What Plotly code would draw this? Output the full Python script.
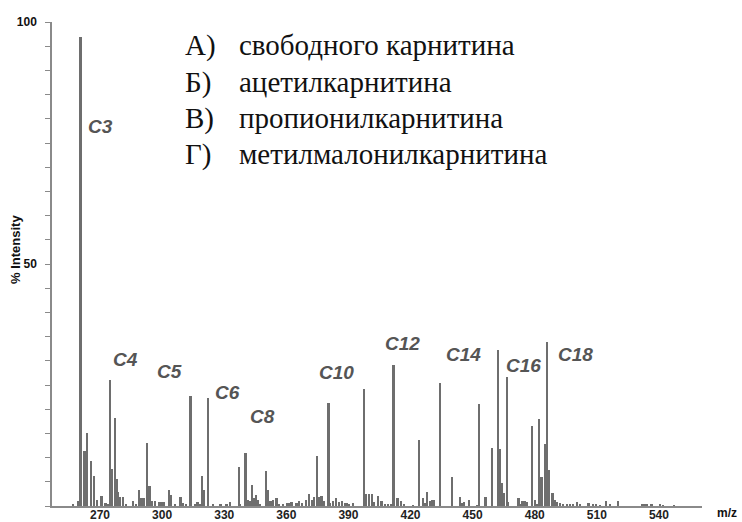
import plotly.graph_objects as go

# ---- data ----
mz_values = [257.1, 259.5, 260.7, 262.6, 263.9, 265.7, 267.2, 268.6, 270.8, 272.8, 274.0,
             274.9, 275.7, 277.2, 278.2, 278.8, 279.8, 281.3, 282.5, 286.1, 287.5, 288.8,
             289.8, 291.1, 292.9, 294.0, 295.3, 296.6, 298.5, 299.8, 300.8, 303.3, 304.6,
             306.5, 309.0, 310.0, 311.5, 313.8, 316.2, 317.2, 318.2, 319.5, 320.2, 322.4,
             324.5, 328.3, 331.2, 333.1, 337.3, 337.9, 340.4, 341.4, 342.5, 343.4, 344.4,
             345.4, 346.2, 347.5, 350.2, 351.3, 352.5, 353.7, 355.4, 356.5, 358.5, 360.5,
             361.4, 362.6, 365.0, 366.3, 367.5, 369.5, 371.1, 372.4, 373.5, 375.1, 375.9,
             377.1, 378.2, 380.5, 381.4, 382.7, 384.3, 385.6, 387.2, 388.5, 389.2, 390.5,
             392.4, 397.6, 398.8, 400.0, 401.3, 402.5, 404.4, 406.1, 407.7, 409.1, 410.6,
             411.9, 413.8, 415.4, 416.9, 421.5, 424.2, 426.2, 427.0, 428.1, 429.6, 430.5,
             431.5, 434.3, 440.2, 444.1, 445.0, 446.0, 448.3, 452.5, 453.1, 456.3, 459.4,
             462.5, 463.2, 464.1, 465.0, 466.7, 467.4, 472.3, 473.2, 474.2, 475.3, 476.4,
             478.6, 480.1, 481.3, 482.2, 483.4, 485.3, 486.2, 487.1, 488.7, 489.8, 490.9,
             492.2, 493.8, 495.6, 497.1, 498.5, 500.6, 501.9, 506.1, 508.2, 509.6, 511.5,
             514.4, 516.4, 520.4, 532.2, 533.3, 534.4, 536.5, 540.6, 542.1, 547.3]
intensity_values = [0.5, 1.0, 97.0, 11.4, 15.0, 9.3, 6.3, 1.2, 2.0, 0.6, 0.3,
                    26.0, 7.7, 18.2, 5.5, 2.9, 1.9, 1.9, 0.3, 1.0, 0.3, 3.4,
                    1.7, 1.7, 13.0, 4.1, 1.0, 1.0, 0.8, 0.8, 0.8, 3.4, 2.3,
                    0.3, 1.9, 0.7, 0.3, 22.8, 0.4, 0.8, 0.3, 6.3, 3.4, 22.3,
                    0.3, 0.5, 0.5, 0.8, 8.0, 0.3, 11.0, 1.3, 1.0, 4.4, 1.7,
                    2.2, 1.3, 0.3, 7.2, 3.3, 1.0, 1.3, 1.7, 0.3, 0.3, 0.6,
                    0.6, 0.8, 0.6, 1.0, 0.6, 1.3, 2.4, 1.3, 1.9, 10.3, 1.9,
                    2.0, 1.0, 21.2, 0.6, 1.0, 1.7, 0.8, 1.0, 0.6, 0.6, 0.3,
                    0.6, 24.1, 2.4, 2.4, 2.4, 0.8, 2.0, 1.0, 0.3, 0.3, 0.3,
                    29.1, 1.7, 1.0, 0.3, 0.2, 13.7, 1.7, 0.6, 2.9, 1.0, 1.3,
                    1.2, 25.5, 6.0, 1.9, 0.6, 0.8, 1.3, 0.2, 21.0, 1.9, 12.0,
                    32.2, 11.8, 4.8, 2.7, 26.7, 0.8, 1.7, 0.5, 1.0, 1.0, 0.8,
                    16.6, 1.3, 0.3, 18.0, 6.0, 12.9, 33.8, 7.5, 2.6, 1.3, 0.8,
                    0.6, 0.3, 0.3, 0.3, 0.3, 0.8, 0.4, 0.6, 0.3, 0.3, 0.2,
                    1.0, 0.3, 1.0, 0.3, 0.3, 0.3, 0.3, 0.3, 0.2, 0.2]

peak_labels = ["C3", "C4", "C5", "C6", "C8", "C10", "C12", "C14", "C16", "C18"]
peak_label_mz = [270.0, 282.1, 303.8, 331.8, 348.3, 384.0, 415.9, 445.4, 474.8, 499.5]
peak_label_int = [78.5, 30.2, 27.8, 23.4, 18.5, 27.6, 33.5, 31.3, 29.0, 31.3]

legend_letters = ["А)", "Б)", "В)", "Г)"]
legend_texts = ["свободного карнитина", "ацетилкарнитина", "пропионилкарнитина",
                "метилмалонилкарнитина"]

x_tick_vals = [270, 300, 330, 360, 390, 420, 450, 480, 510, 540]
y_tick_vals = list(range(0, 101, 5))
y_tick_text = ["100" if v == 100 else ("50" if v == 50 else "") for v in y_tick_vals]

W, H = 742, 522
ML, MR, MT, MB = 52, 40, 22, 16
PW, PH = W - ML - MR, H - MT - MB


def px_to_paper(px, py):
    return (px - ML) / PW, (H - MB - py) / PH


fig = go.Figure()
fig.add_trace(go.Bar(x=mz_values, y=intensity_values, width=0.8,
                     marker=dict(color="#6e6e6e", line=dict(width=0)),
                     hoverinfo="x+y"))

# peak labels
for lab, mx, my in zip(peak_labels, peak_label_mz, peak_label_int):
    fig.add_annotation(x=mx, y=my, xref="x", yref="y", text="<i>%s</i>" % lab,
                       showarrow=False, xanchor="center", yanchor="middle",
                       font=dict(family="Liberation Sans", size=19, color="#555555",
                                 weight="bold"))

# legend text block (serif)
leg_py = [45, 82, 118, 154]
for letter, txt, py in zip(legend_letters, legend_texts, leg_py):
    xa, ya = px_to_paper(183, py)
    xb, _ = px_to_paper(237, py)
    fig.add_annotation(x=xa, y=ya, xref="paper", yref="paper", text=letter,
                       showarrow=False, xanchor="left", yanchor="middle",
                       font=dict(family="Liberation Serif", size=29, color="#111111"))
    fig.add_annotation(x=xb, y=ya, xref="paper", yref="paper", text=txt,
                       showarrow=False, xanchor="left", yanchor="middle",
                       font=dict(family="Liberation Serif", size=29, color="#111111"))

# axis titles
tx, ty = px_to_paper(15, 250)
fig.add_annotation(x=tx, y=ty, xref="paper", yref="paper", text="% Intensity",
                   showarrow=False, textangle=-90, xanchor="center", yanchor="middle",
                   font=dict(family="Liberation Sans", size=13, color="#111111",
                             weight="bold"))
mx_, my_ = px_to_paper(727, 513)
fig.add_annotation(x=mx_, y=my_, xref="paper", yref="paper", text="m/z",
                   showarrow=False, xanchor="center", yanchor="middle",
                   font=dict(family="Liberation Sans", size=12, color="#111111",
                             weight="bold"))

fig.update_layout(
    width=W, height=H,
    margin=dict(l=ML, r=MR, t=MT, b=MB, autoexpand=False),
    paper_bgcolor="white", plot_bgcolor="white",
    showlegend=False, bargap=0,
    xaxis=dict(range=[246.8, 560.8], tickvals=x_tick_vals, ticks="", showgrid=False,
               zeroline=False, showline=True, linecolor="#8a8a8a", linewidth=1.5,
               automargin=False, ticklabelstandoff=-3,
               tickfont=dict(family="Liberation Sans", size=12, color="#222222",
                             weight="bold")),
    yaxis=dict(range=[0, 100], tickvals=y_tick_vals, ticktext=y_tick_text,
               ticks="outside", ticklen=5, tickcolor="#8a8a8a", tickwidth=1,
               showgrid=False, zeroline=False, showline=True, linecolor="#8a8a8a",
               linewidth=1.5, ticklabelstandoff=6, automargin=False,
               tickfont=dict(family="Liberation Sans", size=12, color="#111111",
                             weight="bold")),
)

fig.write_html("out.html")
